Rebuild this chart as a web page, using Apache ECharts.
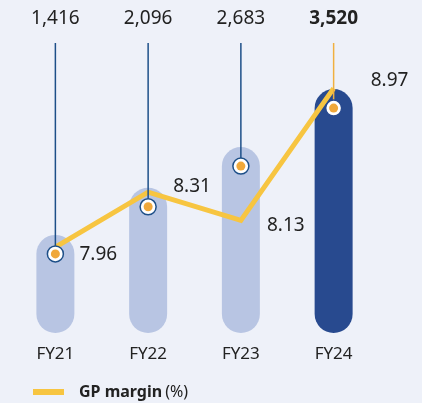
<!DOCTYPE html>
<html>
<head>
<meta charset="utf-8">
<script src="https://cdn.jsdelivr.net/npm/echarts@6/dist/echarts.min.js"></script>
<style>
  html, body { margin: 0; padding: 0; background: #eef1f9; }
  #chart { width: 422px; height: 403px; }
</style>
</head>
<body>
<div id="chart"></div>
<script>
// 数据
const categories = ["FY21", "FY22", "FY23", "FY24"];
const grossProfit = [1416, 2096, 2683, 3520];
const gpMargin = [7.96, 8.31, 8.13, 8.97];
const valueLabels = ["1,416", "2,096", "2,683", "3,520"];

// 样式（非数据）
const barColors = ["#b8c5e3", "#b8c5e3", "#b8c5e3", "#284a8f"];
const dropColors = ["#1d4f88", "#1d4f88", "#1d4f88", "#f0b040"];
const marginOffsets = [[24, 7], [25, -6], [26, 5], [37, -8]];
const FONT = "'Noto Sans', 'Open Sans', sans-serif";

const chart = echarts.init(document.getElementById("chart"));

const option = {
  backgroundColor: "#eef1f9",
  animation: false,
  grid: { left: 9, right: 42, top: 33, bottom: 70 },
  xAxis: {
    type: "category",
    data: categories,
    axisLine: { show: false },
    axisTick: { show: false },
    axisLabel: { color: "#222", fontSize: 17, fontFamily: FONT, margin: 13 }
  },
  yAxis: [
    { type: "value", min: 0, max: 4330, show: false },
    { type: "value", min: 7.414, max: 9.322, show: false }
  ],
  legend: {
    left: 28,
    top: 379,
    itemWidth: 31,
    itemHeight: 6,
    icon: "rect",
    data: [{ name: "GP margin", itemStyle: { color: "#f7c541" } }],
    formatter: () => "{b|GP margin}{n|(%)}",
    textStyle: {
      fontFamily: FONT,
      rich: {
        b: { fontSize: 16, fontWeight: "bold", color: "#222", padding: [0, 0, 0, 10] },
        n: { fontSize: 16, color: "#222", padding: [0, 0, 0, 3] }
      }
    }
  },
  series: [
    {
      type: "bar",
      data: grossProfit.map((v, i) => ({ value: v, itemStyle: { color: barColors[i] } })),
      barWidth: 38,
      itemStyle: { borderRadius: 19 },
      z: 1
    },
    {
      name: "GP margin",
      type: "line",
      yAxisIndex: 1,
      data: gpMargin.map((v, i) => ({
        value: v,
        label: { offset: marginOffsets[i] }
      })),
      symbol: "circle",
      symbolSize: 0.1,
      itemStyle: { color: "#f7c541" },
      lineStyle: { color: "#f7c541", width: 5, join: "miter" },
      label: {
        show: true,
        position: "right",
        distance: 0,
        color: "#222",
        fontSize: 19,
        fontFamily: FONT
      },
      z: 2
    },
    {
      type: "custom",
      data: grossProfit.map((v, i) => [i, v]),
      renderItem: (params, api) => {
        const i = params.dataIndex;
        const p = api.coord([api.value(0), api.value(1)]);
        const cx = p[0];
        const cy = p[1] + 19;
        return {
          type: "group",
          children: [
            {
              type: "line",
              shape: { x1: cx, y1: 43, x2: cx, y2: cy - 8 },
              style: { stroke: dropColors[i], lineWidth: 1.5 }
            },
            {
              type: "circle",
              shape: { cx: cx, cy: cy, r: 8 },
              style: { fill: "#fff", stroke: i === 3 ? "#284a8f" : "#1d4f88", lineWidth: 1.5 }
            },
            {
              type: "circle",
              shape: { cx: cx, cy: cy, r: 4.5 },
              style: { fill: "#f0a83a" }
            },
            {
              type: "text",
              style: {
                text: valueLabels[i],
                x: cx,
                y: 19,
                align: "center",
                verticalAlign: "middle",
                fontSize: 19,
                fontWeight: i === 3 ? "bold" : "normal",
                fontFamily: FONT,
                fill: "#222"
              }
            }
          ]
        };
      },
      z: 3
    }
  ]
};

chart.setOption(option);
window.addEventListener("resize", () => {
  chart.resize();
});
</script>
</body>
</html>
